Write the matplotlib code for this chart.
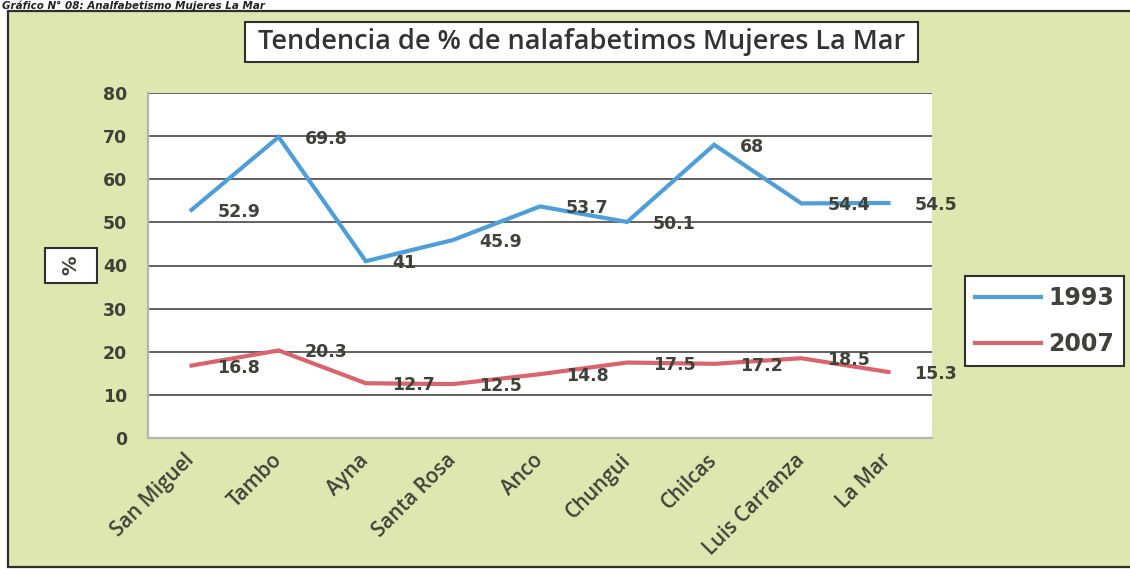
import matplotlib
matplotlib.use("Agg")
import matplotlib.pyplot as plt
from matplotlib.patches import Rectangle

# ---- data ----
categories = ["San Miguel", "Tambo", "Ayna", "Santa Rosa", "Anco",
              "Chungui", "Chilcas", "Luis Carranza", "La Mar"]
values_1993 = [52.9, 69.8, 41, 45.9, 53.7, 50.1, 68, 54.4, 54.5]
values_2007 = [16.8, 20.3, 12.7, 12.5, 14.8, 17.5, 17.2, 18.5, 15.3]
series_labels = ["1993", "2007"]
y_ticks = [0, 10, 20, 30, 40, 50, 60, 70, 80]

title = "Tendencia de % de nalafabetimos Mujeres La Mar"
caption = "Gráfico N° 08: Analfabetismo Mujeres La Mar"

W, H = 1130, 569
fig = plt.figure(figsize=(W / 100, H / 100), dpi=100, facecolor="white")

bg = "#dfe7b0"
txt = "#3f4238"
# chart area frame
fig.patches.append(Rectangle((8 / W, 2 / H), (W + 20) / W, (H - 11 - 2) / H,
                             transform=fig.transFigure, facecolor=bg,
                             edgecolor="#2f2f2f", linewidth=1.6, zorder=-10))

ax = fig.add_axes([148 / W, (H - 438) / H, (932 - 148) / W, (438 - 93) / H])
ax.set_zorder(1)
ax.set_facecolor("white")
x = list(range(len(categories)))
l1, = ax.plot(x, values_1993, color="#4e9fd9", lw=3.0, solid_joinstyle="miter",
              label=series_labels[0], zorder=3)
l2, = ax.plot(x, values_2007, color="#d9646d", lw=3.0, solid_joinstyle="miter",
              label=series_labels[1], zorder=3)

for vals in (values_1993, values_2007):
    for xi, v in zip(x, vals):
        ax.annotate(f"{v:g}", (xi, v), xytext=(26, -2), textcoords="offset pixels",
                    ha="left", va="center", fontsize=12.5, fontweight="bold",
                    color=txt, family="DejaVu Sans", zorder=4, annotation_clip=False)

ax.set_xlim(-0.5, len(categories) - 0.5)
ax.set_ylim(0, 80)
ax.set_yticks(y_ticks)
ax.set_yticklabels([str(t) for t in y_ticks], fontsize=12.5, fontweight="bold",
                   color=txt, family="DejaVu Sans")
ax.set_xticks(x)
ax.set_xticklabels(categories, rotation=45, ha="right", va="center",
                   rotation_mode="anchor",
                   fontsize=14.8, fontweight="semibold", color=txt, family="Open Sans")
ax.tick_params(axis="y", length=0, pad=15)
ax.tick_params(axis="x", length=0, pad=14)
ax.set_axisbelow(True)
ax.yaxis.grid(True, color="#555555", lw=1.3)
for s in ("top", "right"):
    ax.spines[s].set_visible(False)
for s in ("left", "bottom"):
    ax.spines[s].set_color("#b5b5b5")
    ax.spines[s].set_linewidth(1.6)

# title box
fig.patches.append(Rectangle((245 / W, (H - 62) / H), 673 / W, 40 / H,
                             transform=fig.transFigure, facecolor="white",
                             edgecolor="#2f2f2f", linewidth=1.5, zorder=1))
fig.text(581.5 / W, (H - 42) / H, title, ha="center", va="center",
         fontsize=19.5, color="#333333", family="Open Sans", fontweight="semibold")

# % label box
fig.patches.append(Rectangle((45 / W, (H - 283) / H), 52 / W, 35 / H,
                             transform=fig.transFigure, facecolor="white",
                             edgecolor="#2f2f2f", linewidth=1.5, zorder=1))
fig.text(71 / W, (H - 265.5) / H, "%", rotation=90, ha="center", va="center",
         fontsize=14, fontweight="bold", color=txt, family="DejaVu Sans")

# legend
leg = fig.legend(handles=[l1, l2], labels=series_labels, loc="center",
                 bbox_to_anchor=(1044.5 / W, (H - 321) / H),
                 frameon=True, fancybox=False, edgecolor="#2f2f2f",
                 facecolor="white", framealpha=1,
                 prop={"family": "DejaVu Sans", "weight": "bold", "size": 17},
                 handlelength=2.8, handletextpad=0.33, labelspacing=0.95,
                 borderpad=0.42, borderaxespad=0)
leg.get_frame().set_linewidth(1.5)
for t in leg.get_texts():
    t.set_color(txt)

# caption at top edge
fig.text(0.002, 0.999, caption, ha="left", va="top", fontsize=7.5,
         fontstyle="italic", fontweight="bold", color="#222222", family="DejaVu Sans")

fig.savefig("out.png", dpi=100, facecolor="white")
